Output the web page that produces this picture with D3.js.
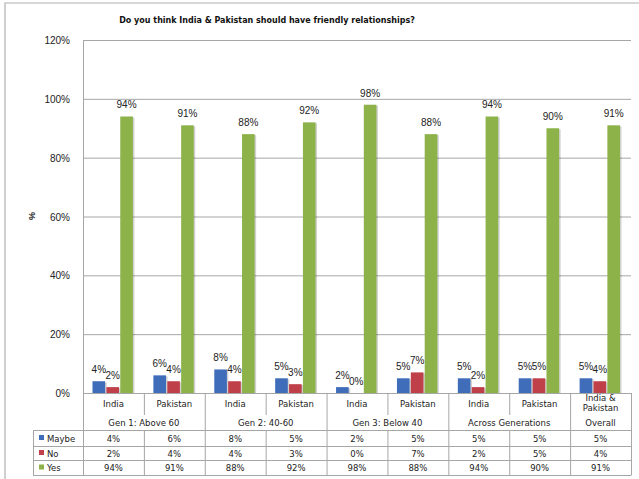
<!DOCTYPE html>
<html>
<head>
<meta charset="utf-8">
<script src="https://cdn.jsdelivr.net/npm/d3@7"></script>
<style>
  body { margin: 0; background: #fff; }
  svg { display: block; }
</style>
</head>
<body>
<div id="chart"></div>
<script>
// data
const columns = ["India", "Pakistan", "India", "Pakistan", "India", "Pakistan", "India", "Pakistan", "India & Pakistan"];
const groups = ["Gen 1: Above 60", "Gen 2: 40-60", "Gen 3: Below 40", "Across Generations", "Overall"];
const groupSpans = [2, 2, 2, 2, 1];
const seriesNames = ["Maybe", "No", "Yes"];
const maybe = [4, 6, 8, 5, 2, 5, 5, 5, 5];
const no = [2, 4, 4, 3, 0, 7, 2, 5, 4];
const yes = [94, 91, 88, 92, 98, 88, 94, 90, 91];
const yTicks = [0, 20, 40, 60, 80, 100, 120];

const series = [maybe, no, yes];
const colors = ["#3f6dba", "#c0404a", "#8db24a"];

const width = 639, height = 479;
const plotLeft = 83, plotRight = 631, plotTop = 40, plotBottom = 393;
const rowLabelY = 415, rowTop = 430;
const rowLines = [430, 446, 460, 475];
const gridColor = "#a6a6a6";

const svg = d3.select("#chart").append("svg")
    .attr("width", width)
    .attr("height", height);

// outer frame (only top and left show)
svg.append("path")
    .attr("d", `M5,${height} L5,3 L${width},3`)
    .attr("fill", "none")
    .attr("stroke", "#b0b0b0")
    .attr("stroke-width", 1.2);

svg.append("text")
    .attr("x", 267)
    .attr("y", 23)
    .attr("text-anchor", "middle")
    .attr("font-family", "DejaVu Sans")
    .attr("font-weight", "bold")
    .attr("font-size", "8px")
    .attr("fill", "#111")
    .text("Do you think India & Pakistan  should have friendly relationships?");

const y = d3.scaleLinear().domain([0, 120]).range([plotBottom, plotTop]);
const x0 = d3.scaleBand().domain(d3.range(columns.length)).range([plotLeft, plotRight]);
const x1 = d3.scaleBand().domain(d3.range(series.length)).range([9.5, x0.bandwidth() - 11]).paddingInner(0.09);

// gridlines
svg.selectAll(".grid")
    .data(yTicks)
    .enter()
    .append("line")
    .attr("x1", plotLeft)
    .attr("x2", plotRight)
    .attr("y1", d => y(d) + 0.5)
    .attr("y2", d => y(d) + 0.5)
    .attr("stroke", gridColor)
    .attr("stroke-width", 1);

svg.selectAll(".ytick")
    .data(yTicks)
    .enter()
    .append("text")
    .attr("x", 70)
    .attr("y", d => y(d) + 4)
    .attr("text-anchor", "end")
    .attr("font-family", "Liberation Sans")
    .attr("font-size", "10px")
    .attr("fill", "#222")
    .text(d => d + "%");

svg.append("text")
    .attr("transform", `translate(35,216) rotate(-90)`)
    .attr("text-anchor", "middle")
    .attr("font-family", "Liberation Sans")
    .attr("font-weight", "bold")
    .attr("font-size", "9px")
    .attr("fill", "#222")
    .text("%");

// bars
const groupsG = svg.selectAll(".col")
    .data(columns)
    .enter()
    .append("g")
    .attr("transform", (d, i) => `translate(${x0(i)},0)`);

series.forEach((vals, s) => {
    groupsG.append("rect")
        .attr("x", (d, i) => x1(s) + 1.5)
        .attr("y", (d, i) => y(vals[i]) + 1)
        .attr("width", x1.bandwidth())
        .attr("height", (d, i) => plotBottom - y(vals[i]) - 1)
        .attr("fill", "#000")
        .attr("opacity", 0.18);
    groupsG.append("rect")
        .attr("x", (d, i) => x1(s))
        .attr("y", (d, i) => y(vals[i]))
        .attr("width", x1.bandwidth())
        .attr("height", (d, i) => plotBottom - y(vals[i]))
        .attr("fill", colors[s]);
    groupsG.append("text")
        .attr("x", (d, i) => x1(s) + x1.bandwidth() / 2)
        .attr("y", (d, i) => y(vals[i]) - 8)
        .attr("text-anchor", "middle")
        .attr("font-family", "Liberation Sans")
        .attr("font-size", "10px")
        .attr("fill", "#222")
        .text((d, i) => vals[i] + "%");
});

// y axis line
svg.append("line")
    .attr("x1", plotLeft + 0.5).attr("x2", plotLeft + 0.5)
    .attr("y1", plotTop).attr("y2", rowLines[3])
    .attr("stroke", gridColor);

// data table
const tableFont = "DejaVu Sans";
const bounds = d3.range(columns.length).map(i => x0(i)).concat([plotRight]);

// column label row dividers
svg.selectAll(".vline")
    .data(bounds)
    .enter()
    .append("line")
    .attr("x1", d => d + 0.5).attr("x2", d => d + 0.5)
    .attr("y1", plotBottom).attr("y2", rowLabelY)
    .attr("stroke", gridColor);

svg.selectAll(".vline2")
    .data(bounds)
    .enter()
    .append("line")
    .attr("x1", d => d + 0.5).attr("x2", d => d + 0.5)
    .attr("y1", rowTop).attr("y2", rowLines[3])
    .attr("stroke", gridColor);

// group dividers
let acc = 0;
const groupBounds = [plotLeft];
groupSpans.forEach(s => { acc += s; groupBounds.push(acc < columns.length ? x0(acc) : plotRight); });

svg.selectAll(".gline")
    .data(groupBounds)
    .enter()
    .append("line")
    .attr("x1", d => d + 0.5).attr("x2", d => d + 0.5)
    .attr("y1", rowLabelY).attr("y2", rowTop)
    .attr("stroke", gridColor);

svg.selectAll(".hline")
    .data(rowLines)
    .enter()
    .append("line")
    .attr("x1", 33).attr("x2", plotRight + 0.5)
    .attr("y1", d => d + 0.5).attr("y2", d => d + 0.5)
    .attr("stroke", gridColor);

svg.append("line")
    .attr("x1", 33.5).attr("x2", 33.5)
    .attr("y1", rowTop).attr("y2", rowLines[3])
    .attr("stroke", gridColor);

// column labels
columns.forEach((c, i) => {
    const cx = x0(i) + x0.bandwidth() / 2;
    const lines = c === "India & Pakistan" ? ["India &", "Pakistan"] : [c];
    lines.forEach((t, k) => {
        svg.append("text")
            .attr("x", cx)
            .attr("y", lines.length === 1 ? 407 : 401 + k * 10)
            .attr("text-anchor", "middle")
            .attr("font-family", tableFont)
            .attr("font-size", "8.5px")
            .attr("fill", "#222")
            .text(t);
    });
});

groups.forEach((g, k) => {
    svg.append("text")
        .attr("x", (groupBounds[k] + groupBounds[k + 1]) / 2)
        .attr("y", 426)
        .attr("text-anchor", "middle")
        .attr("font-family", tableFont)
        .attr("font-size", "8.5px")
        .attr("fill", "#222")
        .text(g);
});

series.forEach((vals, s) => {
    const cy = (rowLines[s] + rowLines[s + 1]) / 2;
    svg.append("rect")
        .attr("x", 39)
        .attr("y", cy - 3)
        .attr("width", 5)
        .attr("height", 5)
        .attr("fill", colors[s]);
    svg.append("text")
        .attr("x", 47)
        .attr("y", cy + 3.5)
        .attr("font-family", tableFont)
        .attr("font-size", "8.5px")
        .attr("fill", "#222")
        .text(seriesNames[s]);
    vals.forEach((v, i) => {
        svg.append("text")
            .attr("x", x0(i) + x0.bandwidth() / 2)
            .attr("y", cy + 3.5)
            .attr("text-anchor", "middle")
            .attr("font-family", tableFont)
            .attr("font-size", "8.5px")
            .attr("fill", "#222")
            .text(v + "%");
    });
});
</script>
</body>
</html>
